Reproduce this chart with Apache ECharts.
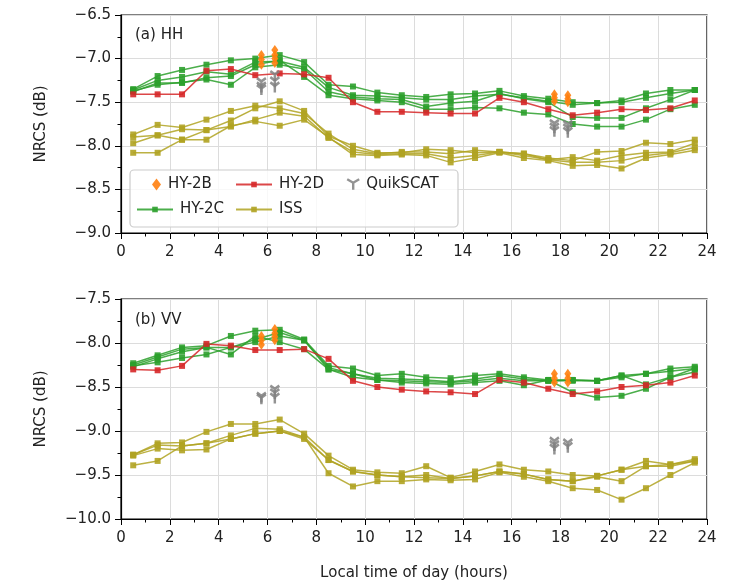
<!DOCTYPE html>
<html>
<head>
<meta charset="utf-8">
<script src="https://cdn.jsdelivr.net/npm/echarts@6/dist/echarts.min.js"></script>
<style>
  html, body { margin: 0; padding: 0; background: #fff; }
  #chart { width: 736px; height: 582px; }
</style>
</head>
<body>
<div id="chart"></div>
<script>
// Local-hour bin centres shared by all hourly curves
const hours = [0.5, 1.5, 2.5, 3.5, 4.5, 5.5, 6.5, 7.5, 8.5, 9.5, 10.5, 11.5,
               12.5, 13.5, 14.5, 15.5, 16.5, 17.5, 18.5, 19.5, 20.5, 21.5, 22.5, 23.5];

// ---- (a) HH ----
const hhHY2C = [
  [-7.35, -7.20, -7.13, -7.07, -7.02, -7.00, -6.96, -7.04, -7.30, -7.32, -7.39, -7.42, -7.44, -7.41, -7.40, -7.37, -7.43, -7.46, -7.50, -7.51, -7.48, -7.40, -7.36, -7.36],
  [-7.36, -7.25, -7.21, -7.15, -7.18, -7.04, -7.03, -7.10, -7.33, -7.42, -7.43, -7.45, -7.47, -7.47, -7.43, -7.41, -7.45, -7.49, -7.53, -7.51, -7.50, -7.45, -7.40, -7.36],
  [-7.37, -7.30, -7.27, -7.24, -7.30, -7.10, -7.07, -7.12, -7.38, -7.44, -7.46, -7.47, -7.55, -7.51, -7.49, -7.40, -7.46, -7.50, -7.67, -7.68, -7.68, -7.57, -7.47, -7.36],
  [-7.38, -7.28, -7.28, -7.22, -7.20, -7.07, -7.02, -7.21, -7.42, -7.46, -7.48, -7.50, -7.58, -7.58, -7.56, -7.57, -7.62, -7.64, -7.75, -7.78, -7.78, -7.70, -7.58, -7.53]
];
const hhHY2D = [-7.41, -7.41, -7.41, -7.14, -7.12, -7.19, -7.17, -7.18, -7.22, -7.50, -7.61, -7.61, -7.62, -7.63, -7.63, -7.45, -7.50, -7.58, -7.65, -7.62, -7.58, -7.59, -7.57, -7.48];
const hhISS = [
  [-7.87, -7.76, -7.79, -7.70, -7.60, -7.54, -7.57, -7.63, -7.86, -8.04, -8.09, -8.07, -8.07, -8.09, -8.05, -8.07, -8.09, -8.14, -8.17, -8.07, -8.06, -7.965, -7.98, -7.93],
  [-7.90, -7.88, -7.81, -7.82, -7.71, -7.57, -7.49, -7.60, -7.89, -8.00, -8.08, -8.08, -8.04, -8.05, -8.08, -8.07, -8.11, -8.16, -8.13, -8.17, -8.11, -8.08, -8.07, -7.97],
  [-7.97, -7.88, -7.93, -7.82, -7.78, -7.70, -7.62, -7.66, -7.91, -8.07, -8.10, -8.09, -8.09, -8.14, -8.11, -8.07, -8.09, -8.16, -8.19, -8.19, -8.17, -8.11, -8.08, -8.02],
  [-8.08, -8.08, -7.93, -7.93, -7.77, -7.72, -7.77, -7.70, -7.90, -8.10, -8.11, -8.10, -8.11, -8.19, -8.14, -8.08, -8.14, -8.17, -8.23, -8.22, -8.26, -8.14, -8.10, -8.05]
];
const hhHY2B = [[5.75, -6.96], [5.75, -7.01], [5.75, -7.07], [6.3, -6.90], [6.3, -6.96], [6.3, -7.00], [6.3, -7.05],
                [17.75, -7.41], [17.75, -7.45], [17.75, -7.49], [18.3, -7.42], [18.3, -7.46], [18.3, -7.50]];
const hhQuikSCAT = [[5.75, -7.28], [5.75, -7.33], [5.75, -7.36], [6.3, -7.20], [6.3, -7.27], [6.3, -7.33],
                    [17.75, -7.76], [17.75, -7.80], [17.75, -7.84], [18.3, -7.77], [18.3, -7.81], [18.3, -7.85]];

// ---- (b) VV ----
const vvHY2C = [
  [-8.23, -8.14, -8.05, -8.03, -7.92, -7.86, -7.85, -7.96, -8.26, -8.29, -8.37, -8.35, -8.39, -8.40, -8.37, -8.35, -8.39, -8.42, -8.42, -8.43, -8.37, -8.35, -8.29, -8.27],
  [-8.25, -8.16, -8.07, -8.05, -8.05, -7.96, -7.88, -7.97, -8.28, -8.35, -8.40, -8.41, -8.42, -8.44, -8.41, -8.37, -8.41, -8.43, -8.43, -8.43, -8.39, -8.35, -8.32, -8.29],
  [-8.26, -8.22, -8.17, -8.13, -8.05, -7.99, -7.92, -7.97, -8.30, -8.39, -8.42, -8.45, -8.46, -8.47, -8.45, -8.43, -8.48, -8.42, -8.56, -8.62, -8.60, -8.52, -8.39, -8.33],
  [-8.27, -8.18, -8.10, -8.05, -8.13, -7.92, -7.99, -8.07, -8.30, -8.35, -8.42, -8.43, -8.44, -8.45, -8.43, -8.40, -8.43, -8.43, -8.42, -8.43, -8.37, -8.47, -8.39, -8.29]
];
const vvHY2D = [-8.30, -8.31, -8.26, -8.01, -8.03, -8.08, -8.08, -8.07, -8.18, -8.43, -8.50, -8.53, -8.55, -8.56, -8.58, -8.42, -8.45, -8.52, -8.58, -8.55, -8.50, -8.48, -8.45, -8.37];
const vvISS = [
  [-9.27, -9.14, -9.13, -9.01, -8.92, -8.92, -8.87, -9.03, -9.28, -9.44, -9.47, -9.48, -9.40, -9.53, -9.46, -9.38, -9.44, -9.46, -9.50, -9.51, -9.44, -9.34, -9.38, -9.32],
  [-9.27, -9.16, -9.17, -9.14, -9.05, -8.97, -8.98, -9.07, -9.33, -9.46, -9.50, -9.52, -9.50, -9.54, -9.51, -9.46, -9.49, -9.55, -9.57, -9.52, -9.57, -9.40, -9.40, -9.34],
  [-9.28, -9.20, -9.22, -9.21, -9.09, -9.03, -9.00, -9.09, -9.33, -9.46, -9.50, -9.52, -9.53, -9.54, -9.51, -9.46, -9.49, -9.55, -9.57, -9.51, -9.44, -9.40, -9.38, -9.34],
  [-9.39, -9.34, -9.17, -9.14, -9.09, -9.03, -9.00, -9.07, -9.48, -9.63, -9.57, -9.57, -9.55, -9.56, -9.55, -9.47, -9.52, -9.57, -9.65, -9.67, -9.78, -9.65, -9.50, -9.36]
];
const vvHY2B = [[5.75, -7.92], [5.75, -7.97], [5.75, -8.02], [6.3, -7.84], [6.3, -7.89], [6.3, -7.93], [6.3, -7.97],
                [17.75, -8.35], [17.75, -8.40], [17.75, -8.45], [18.3, -8.35], [18.3, -8.40], [18.3, -8.45]];
const vvQuikSCAT = [[5.75, -8.62], [5.75, -8.64], [6.3, -8.54], [6.3, -8.58], [6.3, -8.63],
                    [17.75, -9.13], [17.75, -9.17], [17.75, -9.21], [18.3, -9.15], [18.3, -9.19]];

// Axis tick labels
const xTicks = [0, 2, 4, 6, 8, 10, 12, 14, 16, 18, 20, 22, 24];
const hhRange = [-9.0, -6.5];
const vvRange = [-10.0, -7.5];

const FONT = 'DejaVu Sans';
const COLORS = { 'HY-2B': '#ff7f0e', 'HY-2C': '#2ca02c', 'HY-2D': '#d62728', 'ISS': '#b0a322', 'QuikSCAT': '#808080' };
const triDown = 'path://M5,5.5L5,11M5,5.5L0.2,2.7M5,5.5L9.8,2.7';

function pairs(vals) { return hours.map((h, i) => [h, vals[i]]); }

function lineSeries(name, vals, gi) {
  return {
    name, type: 'line', xAxisIndex: gi, yAxisIndex: gi,
    data: pairs(vals), symbol: 'rect', symbolSize: 6,
    lineStyle: { color: COLORS[name], width: 1.5, opacity: 0.85 },
    itemStyle: { color: COLORS[name], opacity: 0.9 },
    emphasis: { disabled: true }, animation: false, z: 2
  };
}

const series = [];
[[hhHY2C, hhHY2D, hhISS, hhHY2B, hhQuikSCAT], [vvHY2C, vvHY2D, vvISS, vvHY2B, vvQuikSCAT]].forEach((set, gi) => {
  const [c, d, iss, b, q] = set;
  iss.forEach(v => series.push(lineSeries('ISS', v, gi)));
  c.forEach(v => series.push(lineSeries('HY-2C', v, gi)));
  series.push(lineSeries('HY-2D', d, gi));
  series.push({
    name: 'HY-2B', type: 'scatter', xAxisIndex: gi, yAxisIndex: gi, data: b,
    symbol: 'diamond', symbolSize: [7, 10],
    itemStyle: { color: COLORS['HY-2B'], opacity: 0.9 }, animation: false, z: 3
  });
  series.push({
    name: 'QuikSCAT', type: 'scatter', xAxisIndex: gi, yAxisIndex: gi, data: q,
    symbol: triDown, symbolSize: [9, 10],
    itemStyle: { color: 'rgba(0,0,0,0)', borderColor: COLORS['QuikSCAT'], borderWidth: 2.6, opacity: 0.85 },
    animation: false, z: 3
  });
});

function xAxis(gi) {
  return {
    type: 'value', gridIndex: gi, min: 0, max: 24, interval: 2,
    axisLine: { show: true, onZero: false, lineStyle: { color: '#000', width: 1.2 } },
    axisTick: { show: true, inside: false, length: 6, lineStyle: { color: '#000' } },
    minorTick: { show: true, splitNumber: 2, length: 3.5, lineStyle: { color: '#000' } },
    splitLine: { show: true, lineStyle: { color: '#dcdcdc', width: 1 } },
    axisLabel: { fontFamily: FONT, fontSize: 15, color: '#222', margin: 12,
                 formatter: v => xTicks.includes(v) ? String(v) : '' },
    name: gi === 1 ? 'Local time of day (hours)' : '',
    nameLocation: 'middle', nameGap: 47,
    nameTextStyle: { fontFamily: FONT, fontSize: 15, color: '#222' }
  };
}
function yAxis(gi, range) {
  return {
    type: 'value', gridIndex: gi, min: range[0], max: range[1], interval: 0.5,
    axisLine: { show: true, onZero: false, lineStyle: { color: '#000', width: 1.2 } },
    axisTick: { show: true, inside: false, length: 6, lineStyle: { color: '#000' } },
    minorTick: { show: true, splitNumber: 2, length: 3.5, lineStyle: { color: '#000' } },
    splitLine: { show: true, lineStyle: { color: '#dcdcdc', width: 1 } },
    axisLabel: { fontFamily: FONT, fontSize: 15, color: '#222', margin: 10,
                 formatter: v => v.toFixed(1).replace('-', '\u2212') },
    name: 'NRCS (dB)', nameLocation: 'middle', nameGap: 72, nameRotate: 90,
    nameTextStyle: { fontFamily: FONT, fontSize: 15, color: '#222' }
  };
}

function legendItem(name, left, top, w, h, icon) {
  const l = {
    data: [name], left, top, padding: 0, itemWidth: w, itemHeight: h, itemGap: 0,
    selectedMode: false, orient: 'horizontal',
    textStyle: { fontFamily: FONT, fontSize: 15, color: '#222', padding: [0, 0, 0, 2] }
  };
  if (icon) l.icon = icon;
  if (name === 'QuikSCAT') l.itemStyle = { color: 'rgba(0,0,0,0)', borderColor: COLORS.QuikSCAT, borderWidth: 2.4 };
  return l;
}

const option = {
  backgroundColor: '#fff',
  animation: false,
  grid: [
    { left: 121, top: 15, width: 586, height: 218, show: true, borderColor: '#000', borderWidth: 1.2, backgroundColor: 'transparent' },
    { left: 121, top: 299, width: 586, height: 220, show: true, borderColor: '#000', borderWidth: 1.2, backgroundColor: 'transparent' }
  ],
  xAxis: [xAxis(0), xAxis(1)],
  yAxis: [yAxis(0, hhRange), yAxis(1, vvRange)],
  legend: [
    legendItem('HY-2B', 152, 177, 9, 12, 'diamond'),
    legendItem('HY-2D', 235, 177, 36, 7),
    legendItem('QuikSCAT', 346, 177, 12, 13, triDown),
    legendItem('HY-2C', 136, 202, 36, 7),
    legendItem('ISS', 235, 202, 36, 7)
  ],
  graphic: [
    { type: 'rect', shape: { x: 130, y: 170, width: 328, height: 57, r: 4 },
      style: { fill: 'rgba(255,255,255,0.8)', stroke: '#cccccc', lineWidth: 1.2 }, z: 4, silent: true },
    { type: 'text', left: 135, top: 28, style: { text: '(a) HH', fontFamily: FONT, fontSize: 15, fill: '#222' }, z: 5 },
    { type: 'text', left: 135, top: 313, style: { text: '(b) VV', fontFamily: FONT, fontSize: 15, fill: '#222' }, z: 5 }
  ],
  series
};

const chart = echarts.init(document.getElementById('chart'), null, { renderer: 'canvas' });
chart.setOption(option);
</script>
</body>
</html>
